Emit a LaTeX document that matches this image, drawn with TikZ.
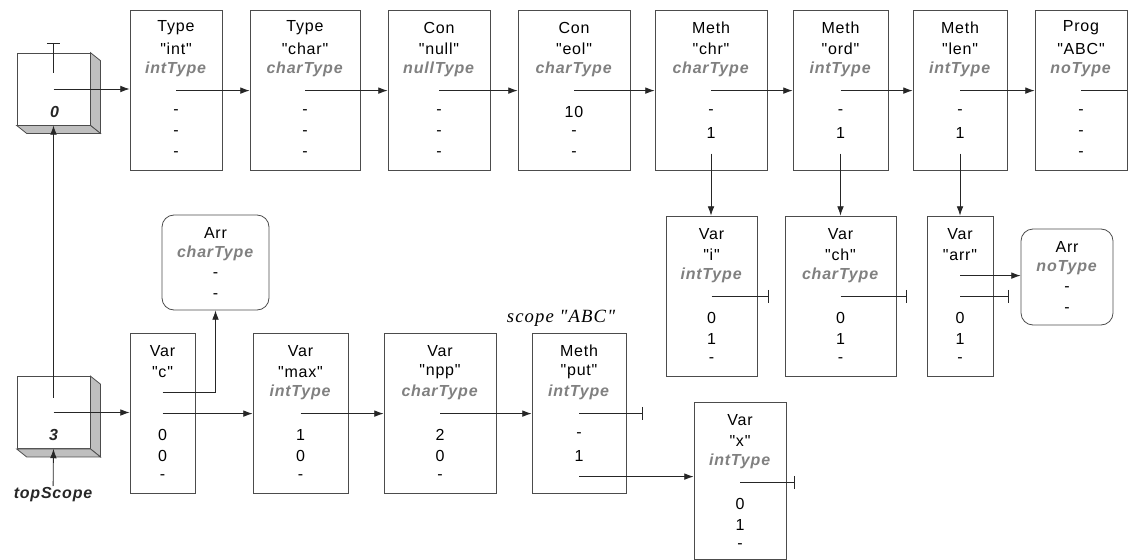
\documentclass[tikz,border=0pt]{standalone}
\usepackage{fontspec}
\setmainfont{Liberation Sans}[LetterSpace=5,Ligatures=TeXOff]
\newfontfamily\scopefont{Liberation Serif}[LetterSpace=6,Ligatures=TeXOff]
\usetikzlibrary{positioning,calc,arrows.meta}

\newcommand{\fs}{\fontsize{12}{14}\selectfont}
\newcommand{\ty}[1]{\textcolor{black!50}{\textbf{\textit{#1}}}}

\begin{document}
\begin{tikzpicture}[x=0.75pt,y=-0.75pt,
  box/.style 2 args={draw=black!70, line width=0.6pt, inner sep=0pt,
    minimum width=#1*0.75pt, minimum height=#2*0.75pt},
  arrbox/.style 2 args={box={#1}{#2}, rounded corners=9pt},
  scopebox/.style={draw=black!70, line width=0.6pt, fill=white, inner sep=0pt,
    minimum width=73*0.75pt, minimum height=72*0.75pt},
  shade/.style={fill=black!25, draw=black!70, line width=0.6pt},
  field/.style={inner sep=0pt, font=\fs},
  lbl/.style={inner sep=1pt, font=\fs\bfseries\itshape, text=black!85},
  ptr/.style={draw=black!85, line width=0.6pt, -{Latex[length=7pt,width=5pt]}},
  nil/.style={draw=black!85, line width=0.6pt, -{Bar[width=10pt]}}]
\useasboundingbox (0,0) rectangle (1128,560);

% one text line per field, 21px apart
\def\fields#1#2{\foreach \txt [count=\i] in {#2} {
  \node[field] (#1-\i) at ($(#1.north)+(0,21*\i-3)$) {\txt};}}

% scope boxes
\node[scopebox] (s0) at (53.5,89) {};
\node[scopebox] (s3) at (53.5,412.5) {};
\filldraw[shade] (s0.north east) -- ++(10,8) -- ($(s0.south east)+(10,8)$) -- (s0.south east) -- cycle;
\filldraw[shade] (s0.south west) -- ++(10,8) -- ($(s0.south east)+(10,8)$) -- (s0.south east) -- cycle;
\filldraw[shade] (s3.north east) -- ++(10,8) -- ($(s3.south east)+(10,8)$) -- (s3.south east) -- cycle;
\filldraw[shade] (s3.south west) -- ++(10,8) -- ($(s3.south east)+(10,8)$) -- (s3.south east) -- cycle;
\node[lbl] (s0-lbl) at ($(s0.center)+(1,23)$) {0};
\node[lbl] (s3-lbl) at ($(s3.center)+(0,22)$) {3};
\node[lbl] (top) at (53,495) {topScope};
\coordinate (s0-out) at ($(s0.center)+(0,-16)$);
\coordinate (s0-nil) at ($(s0.north)+(0,-10)$);
\coordinate (s3-out) at ($(s3.center)+(0,-15)$);

% universe
\node[box={92}{160}] (tint) at (176,90) {};
\fields{tint}{Type,"int",\ty{intType},,-,-,-}
\node[box={110}{160}] (tchar) at (305,90) {};
\fields{tchar}{Type,"char",\ty{charType},,-,-,-}
\node[box={102}{160}] (cnull) at (439,90) {};
\fields{cnull}{Con,"null",\ty{nullType},,-,-,-}
\node[box={112}{160}] (ceol) at (574,90) {};
\fields{ceol}{Con,"eol",\ty{charType},,10,-,-}
\node[box={112}{160}] (mchr) at (711,90) {};
\fields{mchr}{Meth,"chr",\ty{charType},,-,1,}
\node[box={95}{160}] (mord) at (840.5,90) {};
\fields{mord}{Meth,"ord",\ty{intType},,-,1,}
\node[box={94}{160}] (mlen) at (960,90) {};
\fields{mlen}{Meth,"len",\ty{intType},,-,1,}
\node[box={92}{160}] (prog) at (1081,90) {};
\fields{prog}{Prog,"ABC",\ty{noType},,-,-,-}

% locals of the methods
\node[box={91}{160}] (vari) at (711.5,296) {};
\fields{vari}{Var,"i",\ty{intType},,0,1,-}
\node[box={111}{160}] (varch) at (840.5,296) {};
\fields{varch}{Var,"ch",\ty{charType},,0,1,-}
\node[box={66}{160}] (vararr) at (960,296) {};
\fields{vararr}{Var,"arr",,,0,1,-}
\node[arrbox={92}{96}] (arrno) at (1067,277) {};
\fields{arrno}{Arr,\ty{noType},-,-}

% program scope
\node[arrbox={107}{95}] (arrc) at (215.5,262.5) {};
\fields{arrc}{Arr,\ty{charType},-,-}
\node[box={65}{160}] (varc) at (162.5,413) {};
\fields{varc}{Var,"c",,,0,0,-}
\node[box={95}{160}] (varmax) at (300.5,413) {};
\fields{varmax}{Var,"max",\ty{intType},,1,0,-}
\node[box={112}{160}] (varnpp) at (440,413) {};
\fields{varnpp}{Var,"npp",\ty{charType},,2,0,-}
\node[box={94}{160}] (mput) at (579,413) {};
\fields{mput}{Meth,"put",\ty{intType},,-,1,}
\node[box={92}{157}] (varx) at (740,480.5) {};
\fields{varx}{Var,"x",\ty{intType},,0,1,-}
\node[font=\scopefont\fontsize{14}{16}\selectfont\itshape] (scope) at (561,318) {scope "ABC"};

\coordinate (vari-nil) at ($(vari-4.center -| vari.east)+(11,0)$);
\coordinate (varch-nil) at ($(varch-4.center -| varch.east)+(10,0)$);
\coordinate (vararr-nil) at ($(vararr-4.center -| vararr.east)+(15,0)$);
\coordinate (mput-nil) at ($(mput-4.center -| mput.east)+(16,0)$);
\coordinate (varx-nil) at ($(varx-4.center -| varx.east)+(8,0)$);

% links
\draw[nil] (s0-out) -- (s0-nil);
\draw[ptr] (s0.center) -- (s0.center -| tint.west);
\draw[ptr] (s3-out) -- (s0.south);
\draw[ptr] (s3.center) -- (s3.center -| varc.west);
\draw[ptr] (top) -- (s3.south);

\draw[ptr] (tint-4.center) -- (tint-4.center -| tchar.west);
\draw[ptr] (tchar-4.center) -- (tchar-4.center -| cnull.west);
\draw[ptr] (cnull-4.center) -- (cnull-4.center -| ceol.west);
\draw[ptr] (ceol-4.center) -- (ceol-4.center -| mchr.west);
\draw[ptr] (mchr-4.center) -- (mchr-4.center -| mord.west);
\draw[ptr] (mord-4.center) -- (mord-4.center -| mlen.west);
\draw[ptr] (mlen-4.center) -- (mlen-4.center -| prog.west);
\draw[draw=black!85, line width=0.6pt] (prog-4.center) -- (prog-4.center -| prog.east);

\draw[ptr] (mchr-7.center) -- (mchr-7.center |- vari.north);
\draw[ptr] (mord-7.center) -- (mord-7.center |- varch.north);
\draw[ptr] (mlen-7.center) -- (mlen-7.center |- vararr.north);
\draw[nil] (vari-4.center) -- (vari-nil);
\draw[nil] (varch-4.center) -- (varch-nil);
\draw[ptr] (vararr-3.center) -- (vararr-3.center -| arrno.west);
\draw[nil] (vararr-4.center) -- (vararr-nil);

\draw[ptr] (varc-3.center) -| (arrc.south);
\draw[ptr] (varc-4.center) -- (varc-4.center -| varmax.west);
\draw[ptr] (varmax-4.center) -- (varmax-4.center -| varnpp.west);
\draw[ptr] (varnpp-4.center) -- (varnpp-4.center -| mput.west);
\draw[nil] (mput-4.center) -- (mput-nil);
\draw[ptr] (mput-7.center) -- (mput-7.center -| varx.west);
\draw[nil] (varx-4.center) -- (varx-nil);
\end{tikzpicture}
\end{document}
